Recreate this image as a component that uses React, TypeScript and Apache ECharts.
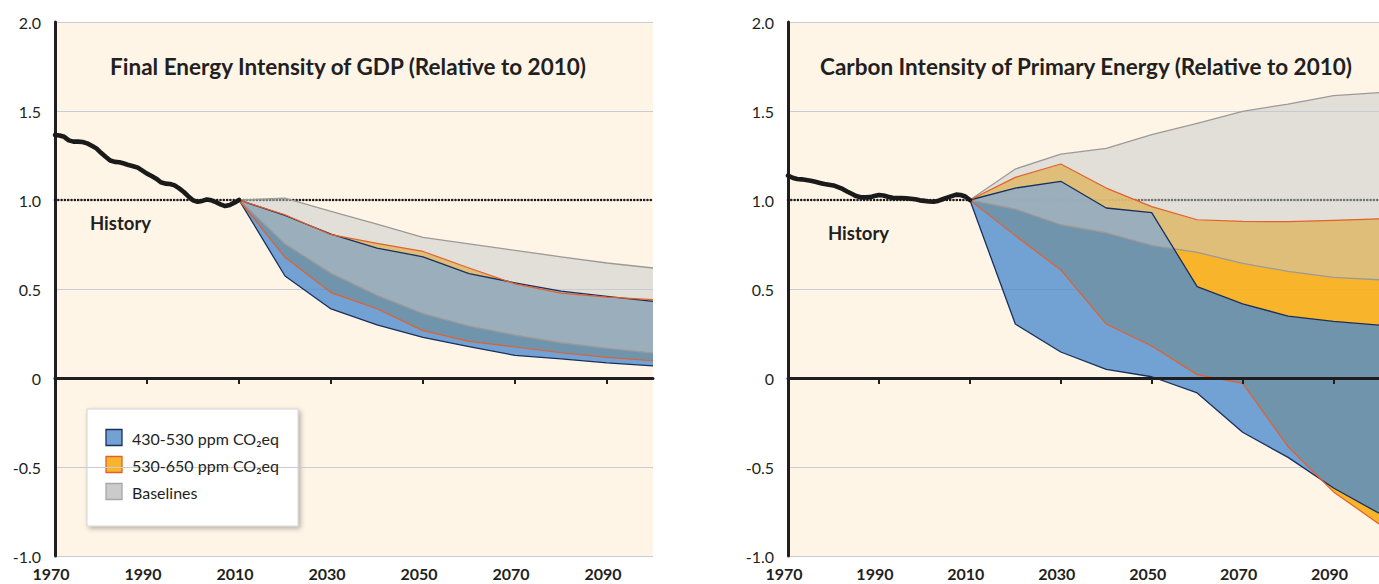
import { useEffect, useRef } from "react";
import * as echarts from "echarts";

// ---------- data ----------
const LABEL_YEARS = [1970, 1990, 2010, 2030, 2050, 2070, 2090];
const TICK_YEARS = [1990, 2010, 2030, 2050, 2070, 2090];

const HIST_YEARS = [
  1970, 1971, 1972, 1973, 1974, 1975, 1976, 1977, 1978, 1979,
  1980, 1981, 1982, 1983, 1984, 1985, 1986, 1987, 1988, 1989,
  1990, 1991, 1992, 1993, 1994, 1995, 1996, 1997, 1998, 1999,
  2000, 2001, 2002, 2003, 2004, 2005, 2006, 2007, 2008, 2009, 2010,
];
const HIST_ENERGY = [
  1.365, 1.362, 1.355, 1.335, 1.328, 1.328, 1.326, 1.318, 1.305, 1.29,
  1.265, 1.243, 1.222, 1.214, 1.212, 1.205, 1.196, 1.19, 1.182, 1.165,
  1.148, 1.135, 1.12, 1.1, 1.092, 1.09, 1.082, 1.065, 1.045, 1.02,
  0.998, 0.99, 0.995, 1.003, 0.998, 0.988, 0.975, 0.966, 0.972, 0.985, 1.0,
];
const HIST_CARBON = [
  1.137, 1.125, 1.118, 1.116, 1.112, 1.108, 1.102, 1.096, 1.09, 1.086,
  1.082, 1.072, 1.062, 1.048, 1.035, 1.022, 1.015, 1.015, 1.016, 1.022,
  1.028, 1.025, 1.018, 1.012, 1.011, 1.011, 1.01, 1.007, 1.004, 0.998,
  0.995, 0.992, 0.99, 0.995, 1.004, 1.013, 1.022, 1.03, 1.028, 1.02, 1.0,
];

const SCEN_YEARS = [2010, 2020, 2030, 2040, 2050, 2060, 2070, 2080, 2090, 2100];

// Final energy intensity of GDP
const E_BASE_HI = [1.0, 1.01, 0.936, 0.865, 0.79, 0.753, 0.717, 0.681, 0.646, 0.618];
const E_BASE_LO = [1.0, 0.753, 0.588, 0.464, 0.362, 0.292, 0.241, 0.198, 0.167, 0.14];
const E_530_HI = [1.0, 0.917, 0.805, 0.756, 0.711, 0.618, 0.529, 0.477, 0.454, 0.44];
const E_530_LO = [1.0, 0.678, 0.48, 0.389, 0.266, 0.206, 0.174, 0.142, 0.116, 0.097];
const E_430_HI = [1.0, 0.913, 0.808, 0.73, 0.681, 0.586, 0.535, 0.488, 0.458, 0.43];
const E_430_LO = [1.0, 0.573, 0.388, 0.298, 0.228, 0.176, 0.127, 0.108, 0.085, 0.068];

// Carbon intensity of primary energy
const C_BASE_HI = [1.0, 1.174, 1.258, 1.29, 1.367, 1.43, 1.498, 1.539, 1.586, 1.603];
const C_BASE_LO = [1.0, 0.949, 0.861, 0.816, 0.745, 0.706, 0.644, 0.599, 0.565, 0.552];
const C_530_HI = [1.0, 1.127, 1.202, 1.067, 0.963, 0.889, 0.88, 0.878, 0.886, 0.894];
const C_530_LO = [1.0, 0.8, 0.607, 0.303, 0.18, 0.019, -0.03, -0.386, -0.64, -0.82];
const C_430_HI = [1.0, 1.067, 1.105, 0.955, 0.929, 0.513, 0.416, 0.348, 0.318, 0.297];
const C_430_LO = [1.0, 0.303, 0.146, 0.048, 0.007, -0.084, -0.305, -0.446, -0.618, -0.76];

const LEGEND_ITEMS = ["430-530 ppm CO₂eq", "530-650 ppm CO₂eq", "Baselines"];
const TITLES = [
  "Final Energy Intensity of GDP (Relative to 2010)",
  "Carbon Intensity of Primary Energy (Relative to 2010)",
];

// ---------- styles ----------
const FONT = "Lato, 'Open Sans', sans-serif";
const INK = "#231f20";
const CREAM = "#fef5e7";
const GRID_LINE = "#c9ccd6";

const FILL_430 = "rgba(79,140,206,0.8)";
const FILL_530 = "rgba(247,174,28,0.93)";
const FILL_BASE = "rgba(198,199,201,0.5)";
const LINE_430 = "#1b2f5c";
const LINE_530 = "#e3602b";
const LINE_BASE = "#9c9a97";

function band(grid: number, lo: number[], hi: number[], fill: string, z: number) {
  return {
    type: "custom",
    xAxisIndex: grid * 2,
    yAxisIndex: grid,
    z,
    silent: true,
    data: [[SCEN_YEARS[0], hi[0]]],
    encode: { x: 0, y: 1 },
    renderItem: (_params: any, api: any) => {
      const pts: number[][] = [];
      for (let i = 0; i < SCEN_YEARS.length; i++) pts.push(api.coord([SCEN_YEARS[i], hi[i]]));
      for (let i = SCEN_YEARS.length - 1; i >= 0; i--) pts.push(api.coord([SCEN_YEARS[i], lo[i]]));
      return { type: "polygon", shape: { points: pts }, style: { fill } };
    },
  };
}

function edge(grid: number, vals: number[], color: string, width: number, z: number) {
  return {
    type: "line",
    xAxisIndex: grid * 2,
    yAxisIndex: grid,
    data: SCEN_YEARS.map((y, i) => [y, vals[i]]),
    symbol: "none",
    lineStyle: { color, width, join: "round" },
    z,
    silent: true,
    emphasis: { disabled: true },
  };
}

function history(grid: number, vals: number[]) {
  return {
    type: "line",
    xAxisIndex: grid * 2,
    yAxisIndex: grid,
    data: HIST_YEARS.map((y, i) => [y, vals[i]]),
    symbol: "none",
    lineStyle: { color: "#1a1a1a", width: 4.6, join: "round", cap: "round" },
    z: 8,
    silent: true,
    emphasis: { disabled: true },
  };
}

function dotted(grid: number) {
  return {
    type: "line",
    xAxisIndex: grid * 2,
    yAxisIndex: grid,
    data: [
      [1970, 1],
      [2100, 1],
    ],
    symbol: "none",
    lineStyle: { color: "#1a1a1a", width: 2.6, type: [0.01, 3.3], cap: "round" },
    z: 1,
    silent: true,
    emphasis: { disabled: true },
  };
}

function xAxes(grid: number) {
  return [
    {
      gridIndex: grid,
      type: "value",
      min: 1970,
      max: 2100,
      position: "bottom",
      axisLine: { show: false, onZero: false },
      axisTick: { show: false },
      splitLine: { show: false },
      axisLabel: {
        customValues: LABEL_YEARS,
        formatter: (v: number) => String(v),
        fontFamily: FONT,
        fontWeight: "bold",
        fontSize: 16,
        color: INK,
        margin: 9,
        padding: [0, 8, 0, 0],
      },
    },
    {
      gridIndex: grid,
      type: "value",
      min: 1970,
      max: 2100,
      position: "top",
      z: 9,
      axisLine: { show: true, onZero: true, lineStyle: { color: "#1f1f1f", width: 3 } },
      axisTick: {
        show: true,
        inside: true,
        length: 6,
        customValues: TICK_YEARS,
        lineStyle: { color: "#1f1f1f", width: 2 },
      },
      axisLabel: { show: false },
      splitLine: { show: false },
    },
  ];
}

function yAxis(grid: number) {
  return {
    gridIndex: grid,
    type: "value",
    min: -1,
    max: 2,
    interval: 0.5,
    axisLine: { show: true, onZero: false, lineStyle: { color: "#1f1f1f", width: 3 } },
    axisTick: { show: false },
    axisLabel: {
      formatter: (v: number) => (v === 0 ? "0" : v.toFixed(1)),
      fontFamily: FONT,
      fontSize: 16,
      color: INK,
      margin: 14,
    },
    splitLine: {
      show: true,
      lineStyle: {
        color: [GRID_LINE, GRID_LINE, "rgba(0,0,0,0)", GRID_LINE, "rgba(0,0,0,0)", GRID_LINE, GRID_LINE],
        width: 1,
      },
    },
  };
}

function text(x: number, y: number, str: string, size: number, bold: boolean, align = "left") {
  return {
    type: "text",
    x,
    y,
    silent: true,
    z: 20,
    style: {
      text: str,
      fontFamily: FONT,
      fontSize: size,
      fontWeight: bold ? "bold" : "normal",
      fill: INK,
      align,
      textAlign: align,
      verticalAlign: "middle",
      textVerticalAlign: "middle",
    },
  };
}

const LEGEND_SWATCH = [
  { fill: "#72a1d3", stroke: LINE_430 },
  { fill: "#f8b42c", stroke: LINE_530 },
  { fill: "#cbcbcb", stroke: "#a8a8a8" },
];

export default function App() {
  const ref = useRef<HTMLDivElement>(null);

  useEffect(() => {
    document.body.style.margin = "0";
    if (!ref.current) return;
    const chart = echarts.init(ref.current, undefined, { renderer: "svg" });

    const legendChildren: any[] = [
      {
        type: "rect",
        shape: { x: 87, y: 409, width: 211, height: 117 },
        style: {
          fill: "#ffffff",
          stroke: "#d4d4d4",
          lineWidth: 1,
          shadowBlur: 5,
          shadowColor: "rgba(0,0,0,0.3)",
          shadowOffsetX: 2,
          shadowOffsetY: 2,
        },
      },
    ];
    LEGEND_ITEMS.forEach((name, i) => {
      legendChildren.push({
        type: "rect",
        shape: { x: 106, y: 429.5 + i * 27, width: 16, height: 16 },
        style: { fill: LEGEND_SWATCH[i].fill, stroke: LEGEND_SWATCH[i].stroke, lineWidth: 1.3 },
      });
      legendChildren.push(text(132, 438 + i * 27, name, 16, false));
    });

    chart.setOption({
      animation: false,
      backgroundColor: "#ffffff",
      grid: [
        { left: 55, top: 22, width: 598, height: 534, show: true, backgroundColor: CREAM, borderWidth: 0 },
        { left: 788, top: 22, width: 597, height: 534, show: true, backgroundColor: CREAM, borderWidth: 0 },
      ],
      xAxis: [...xAxes(0), ...xAxes(1)],
      yAxis: [yAxis(0), yAxis(1)],
      series: [
        dotted(0),
        band(0, E_530_LO, E_530_HI, FILL_530, 2),
        band(0, E_430_LO, E_430_HI, FILL_430, 3),
        band(0, E_BASE_LO, E_BASE_HI, FILL_BASE, 4),
        edge(0, E_BASE_HI, LINE_BASE, 1.3, 5),
        edge(0, E_BASE_LO, LINE_BASE, 1.3, 5),
        edge(0, E_430_HI, LINE_430, 1.3, 6),
        edge(0, E_430_LO, LINE_430, 1.3, 6),
        edge(0, E_530_HI, LINE_530, 1.2, 7),
        edge(0, E_530_LO, LINE_530, 1.2, 7),
        history(0, HIST_ENERGY),

        dotted(1),
        band(1, C_530_LO, C_530_HI, FILL_530, 2),
        band(1, C_430_LO, C_430_HI, FILL_430, 3),
        band(1, C_BASE_LO, C_BASE_HI, FILL_BASE, 4),
        edge(1, C_BASE_HI, LINE_BASE, 1.3, 5),
        edge(1, C_BASE_LO, LINE_BASE, 1.3, 5),
        edge(1, C_430_HI, LINE_430, 1.3, 6),
        edge(1, C_430_LO, LINE_430, 1.3, 6),
        edge(1, C_530_HI, LINE_530, 1.2, 7),
        edge(1, C_530_LO, LINE_530, 1.2, 7),
        history(1, HIST_CARBON),
      ],
      graphic: [
        text(348, 66, TITLES[0], 22.5, true, "center"),
        text(1086, 66, TITLES[1], 22.5, true, "center"),
        text(90, 223, "History", 18.5, true),
        text(828, 233, "History", 18.5, true),
        { type: "group", silent: true, z: 20, children: legendChildren },
      ],
    });

    return () => chart.dispose();
  }, []);

  return (
    <div
      ref={ref}
      style={{ position: "absolute", left: 0, top: 0, width: 1379, height: 584 }}
    />
  );
}
